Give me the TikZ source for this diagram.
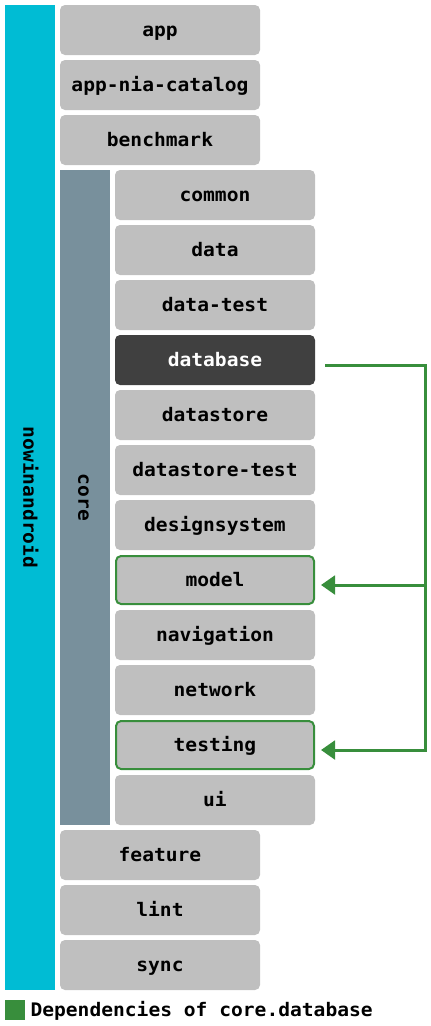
\documentclass[tikz,border=0pt]{standalone}
\usepackage{fontspec}
\usetikzlibrary{arrows.meta,calc}
\newfontfamily\modfont[FakeStretch=1.05]{DejaVu Sans Mono}
\definecolor{nowcyan}{HTML}{00BCD4}
\definecolor{coregrey}{HTML}{78909C}
\definecolor{modgrey}{HTML}{BFBFBF}
\definecolor{dbdark}{HTML}{404040}
\definecolor{depgreen}{HTML}{388E3C}
\tikzset{
  module/.style={fill=modgrey, rounded corners=3.75pt, minimum width=150pt, minimum height=37.5pt, inner sep=0pt, text height=10pt, text depth=0pt, font=\modfont\bfseries\fontsize{14}{16}\selectfont},
  selected/.style={module, fill=dbdark, text=white},
  dependency/.style={module, draw=depgreen, line width=1.5pt, minimum width=148.5pt, minimum height=36pt},
  group/.style={rotate=-90, inner sep=0pt, minimum height=37.5pt, text height=10pt, text depth=0pt, font=\modfont\bfseries\fontsize{14}{16}\selectfont},
  dep/.style={draw=depgreen, line width=2.25pt},
}
\begin{document}
\begin{tikzpicture}[x=0.75pt,y=0.75pt,yscale=-1,xscale=1]
\useasboundingbox (0,0) rectangle (430,1026);

%Group bars
\node[group, fill=nowcyan, minimum width=738.75pt] (nowinandroid) at (30,497.5) {nowinandroid};
\node[group, fill=coregrey, minimum width=491.25pt] (core) at (85,497.5) {core};

%Top level modules
\node[module] (app) at (160,30) {app};
\node[module] (catalog) at (160,85) {app-nia-catalog};
\node[module] (benchmark) at (160,140) {benchmark};

%Core modules
\node[module] (common) at (215,195) {common};
\node[module] (data) at (215,250) {data};
\node[module] (datatest) at (215,305) {data-test};
\node[selected] (database) at (215,360) {database};
\node[module] (datastore) at (215,415) {datastore};
\node[module] (datastoretest) at (215,470) {datastore-test};
\node[module] (designsystem) at (215,525) {designsystem};
\node[dependency] (model) at (215,580) {model};
\node[module] (navigation) at (215,635) {navigation};
\node[module] (network) at (215,690) {network};
\node[dependency] (testing) at (215,745) {testing};
\node[module] (ui) at (215,800) {ui};

%Bottom modules
\node[module] (feature) at (160,855) {feature};
\node[module] (lint) at (160,910) {lint};
\node[module] (sync) at (160,965) {sync};

%Dependency lines
\coordinate (bus) at ($(database.east)+(110,5)$);
\draw[dep, -{Triangle[length=10.5pt,width=14pt]}] ($(database.east)+(10,5)$) -- (bus) |- ($(testing.east)+(6,5)$);
\draw[dep, -{Triangle[length=10.5pt,width=14pt]}] ($(bus |- model.east)+(0,5)$) -- ($(model.east)+(6,5)$);

%Legend
\node[fill=depgreen, minimum size=15pt, inner sep=0pt] (key) at (15,1010) {};
\node[anchor=west, inner sep=0pt, text height=10pt, text depth=0pt, font=\modfont\bfseries\fontsize{14}{16}\selectfont] (keylabel) at ($(key.east)+(5,0)$) {Dependencies of core.database};

\end{tikzpicture}
\end{document}
